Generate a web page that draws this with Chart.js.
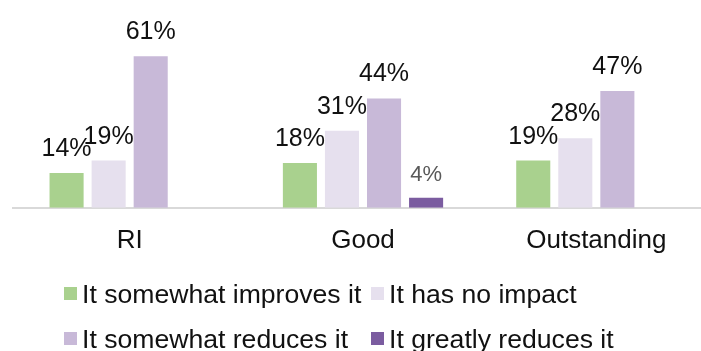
<!DOCTYPE html>
<html>
<head>
<meta charset="utf-8">
<script src="https://cdn.jsdelivr.net/npm/chart.js@4.4.1/dist/chart.umd.min.js"></script>
<style>
  html, body { margin: 0; padding: 0; background: #fff; overflow: hidden; }
  #wrap { position: relative; width: 701px; height: 351px; overflow: hidden; }
  #box { position: absolute; left: 0; top: 0; }
  .lg-box { position: absolute; width: 13px; height: 13px; }
  .lg-text { position: absolute; font: 26.6px "Liberation Sans", Arial, sans-serif; line-height: 30px; color: #111; white-space: nowrap; }
</style>
</head>
<body>
<div id="wrap">
  <div id="box"><canvas id="grafico" width="716" height="351"></canvas></div>
</div>
<script>
// categories and series
const categories = ['RI', 'Good', 'Outstanding'];
const seriesNames = ['It somewhat improves it', 'It has no impact', 'It somewhat reduces it', 'It greatly reduces it'];

// percentages per category
const improves = [14, 18, 19];
const noImpact = [19, 31, 28];
const reduces = [61, 44, 47];
const greatlyReduces = [null, 4, null];

const seriesColors = ['#a9d18e', '#e6e0ee', '#c8b9d8', '#7b5ca0'];
const FONT = '"Liberation Sans", Arial, sans-serif';

const values = [improves, noImpact, reduces, greatlyReduces];

// value labels above each bar
const barLabels = {
  id: 'barLabels',
  afterDatasetsDraw(chart) {
    const ctx = chart.ctx;
    chart.data.datasets.forEach((ds, i) => {
      const meta = chart.getDatasetMeta(i);
      meta.data.forEach((bar, j) => {
        const v = ds.data[j];
        if (v == null) return;
        const small = i === 3;
        ctx.save();
        ctx.font = (small ? '22px ' : '25px ') + FONT;
        ctx.fillStyle = small ? '#595959' : '#111';
        ctx.textAlign = 'center';
        ctx.textBaseline = 'alphabetic';
        ctx.fillText(v + '%', bar.x, bar.y - 17);
        ctx.restore();
      });
    });
  }
};

new Chart(document.getElementById('grafico'), {
  type: 'bar',
  data: {
    labels: categories,
    datasets: seriesNames.map((name, i) => ({
      label: name,
      data: values[i],
      backgroundColor: seriesColors[i],
      borderWidth: 0,
      categoryPercentage: 0.721,
      barPercentage: 0.81
    }))
  },
  options: {
    responsive: false,
    animation: false,
    devicePixelRatio: 1,
    layout: { padding: { top: 9, left: 13, right: 3, bottom: 78 } },
    plugins: { legend: { display: false }, tooltip: { enabled: false } },
    scales: {
      x: {
        grid: { display: false, drawTicks: false },
        border: { display: true, color: '#d9d9d9', width: 2 },
        ticks: { color: '#111', padding: 17, font: { family: FONT, size: 26 } }
      },
      y: { display: false, min: 0, max: 80 }
    }
  },
  plugins: [barLabels]
});

// legend in two aligned columns
const wrap = document.getElementById('wrap');
const colX = [64, 371];
const rowTop = [279, 324];
seriesNames.forEach((name, i) => {
  const col = i % 2, row = Math.floor(i / 2);
  const sq = document.createElement('div');
  sq.className = 'lg-box';
  sq.style.left = colX[col] + 'px';
  sq.style.top = (rowTop[row] + 8) + 'px';
  sq.style.background = seriesColors[i];
  wrap.appendChild(sq);
  const tx = document.createElement('div');
  tx.className = 'lg-text';
  tx.style.left = (colX[col] + 18) + 'px';
  tx.style.top = rowTop[row] + 'px';
  tx.textContent = name;
  wrap.appendChild(tx);
});
</script>
</body>
</html>
